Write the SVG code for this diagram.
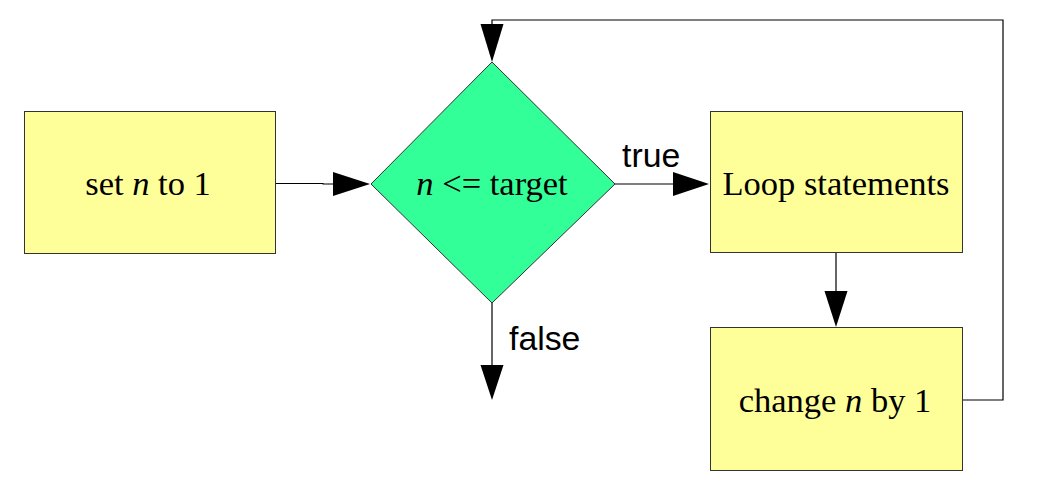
<svg xmlns="http://www.w3.org/2000/svg" width="1043" height="501" viewBox="0 0 1043 501">
<style>
.box{fill:#ffff99;stroke:#333;stroke-width:1}
.dec{fill:#33ff99;stroke:#333;stroke-width:1}
.lbl{font-family:"Liberation Serif","Times New Roman",serif;font-size:34.5px;fill:#000;text-anchor:middle}
.sans{font-family:"Liberation Sans",Arial,sans-serif;font-size:33.8px;fill:#000}
.ln{fill:none;stroke:#000;stroke-width:1.2}
.ah{fill:#000;stroke:none}
</style>
<rect width="1043" height="501" fill="#fff"/>
<g id="set">
<rect class="box" x="24.5" y="111.5" width="251" height="142"/>
<text class="lbl" x="148" y="195">set <tspan font-style="italic">n</tspan> to 1</text>
</g>
<g id="cond">
<polygon class="dec" points="492,62 615,184 492,303 371,184"/>
<text class="lbl" x="492" y="195"><tspan font-style="italic">n</tspan> &lt;= target</text>
</g>
<g id="loop">
<rect class="box" x="710.5" y="111.5" width="252" height="141"/>
<text class="lbl" x="836" y="195">Loop statements</text>
</g>
<g id="change">
<rect class="box" x="710.5" y="327.5" width="252" height="143"/>
<text class="lbl" x="835" y="412">change <tspan font-style="italic">n</tspan> by 1</text>
</g>
<g id="connectors">
<polyline class="ln" points="276,183.5 323,183.5 323,184 334,184"/>
<polygon class="ah" points="333,172 370,184 333,196"/>
<polyline class="ln" points="615,184 674,184"/>
<polygon class="ah" points="673,172 709,184 673,196"/>
<text class="sans" x="622" y="167">true</text>
<polyline class="ln" points="492,303 492,366"/>
<polygon class="ah" points="480.5,365 503.5,365 492,400"/>
<text class="sans" x="509" y="350">false</text>
<polyline class="ln" points="836,253 836,292"/>
<polygon class="ah" points="824.5,291 847.5,291 836,327"/>
<polyline class="ln" points="963,400 1003,400 1003,20 492,20 492,25"/>
<polygon class="ah" points="480.5,24 503.5,24 492,62"/>
</g>
</svg>
